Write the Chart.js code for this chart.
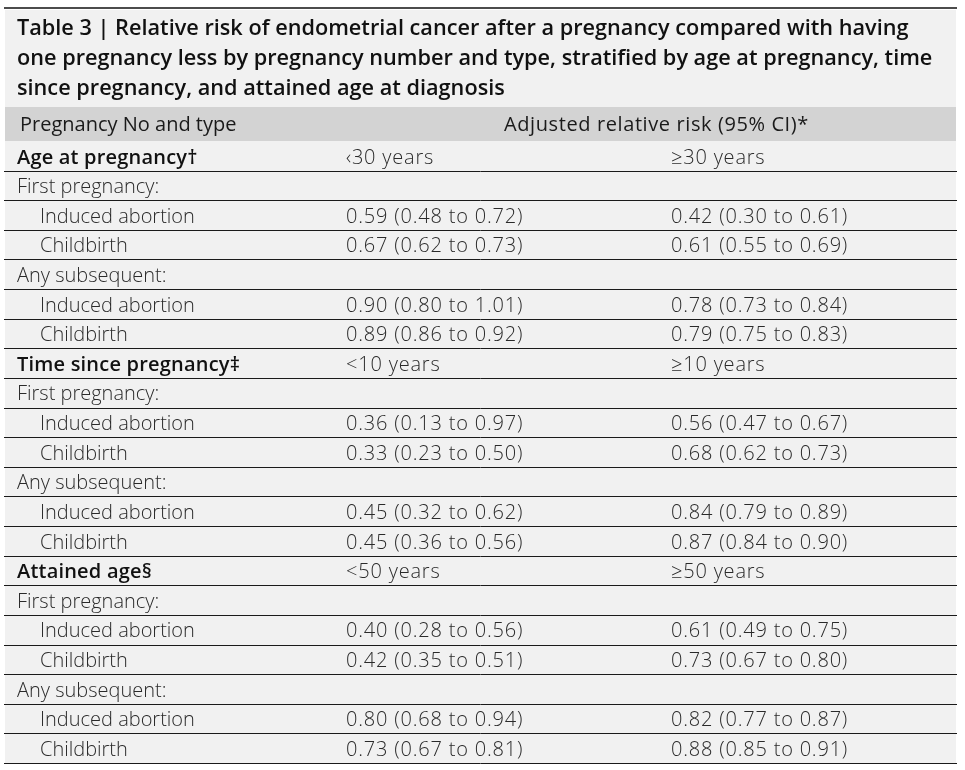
<!DOCTYPE html>
<html>
<head>
<meta charset="utf-8">
<script src="https://cdn.jsdelivr.net/npm/chart.js@4/dist/chart.umd.min.js"></script>
<style>
html,body{margin:0;padding:0;background:#fff;}
#wrap{width:965px;height:770px;}
</style>
</head>
<body>
<div id="wrap"><canvas id="c" width="965" height="770"></canvas></div>
<script>
// ---- data ----
const titleLines = [
  "Table 3 | Relative risk of endometrial cancer after a pregnancy compared with having",
  "one pregnancy less by pregnancy number and type, stratified by age at pregnancy, time",
  "since pregnancy, and attained age at diagnosis"
];
const headerLabels = ["Pregnancy No and type", "Adjusted relative risk (95% CI)*"];
const sections = ["Age at pregnancy†", "Time since pregnancy‡", "Attained age§"];
const sectionColA = ["‹30 years", "<10 years", "<50 years"];
const sectionColB = ["≥30 years", "≥10 years", "≥50 years"];
const groups = ["First pregnancy:", "Any subsequent:"];
const types = ["Induced abortion", "Childbirth"];

const estA  = [0.59,0.67,0.90,0.89, 0.36,0.33,0.45,0.45, 0.40,0.42,0.80,0.73];
const lowA  = [0.48,0.62,0.80,0.86, 0.13,0.23,0.32,0.36, 0.28,0.35,0.68,0.67];
const highA = [0.72,0.73,1.01,0.92, 0.97,0.50,0.62,0.56, 0.56,0.51,0.94,0.81];
const estB  = [0.42,0.61,0.78,0.79, 0.56,0.68,0.84,0.87, 0.61,0.73,0.82,0.88];
const lowB  = [0.30,0.55,0.73,0.75, 0.47,0.62,0.79,0.84, 0.49,0.67,0.77,0.85];
const highB = [0.61,0.69,0.84,0.83, 0.67,0.73,0.89,0.90, 0.75,0.80,0.87,0.91];

// ---- build rows ----
const rows = [];
let k = 0;
sections.forEach((s, si) => {
  rows.push({kind:'section', label:s, a:sectionColA[si], b:sectionColB[si]});
  groups.forEach(g => {
    rows.push({kind:'group', label:g, a:'', b:''});
    types.forEach(t => {
      const fa = estA[k].toFixed(2)+' ('+lowA[k].toFixed(2)+' to '+highA[k].toFixed(2)+')';
      const fb = estB[k].toFixed(2)+' ('+lowB[k].toFixed(2)+' to '+highB[k].toFixed(2)+')';
      rows.push({kind:'item', label:t, a:fa, b:fb});
      k++;
    });
  });
});
const rowIds = rows.map((r,i)=>String(i));

// column anchors on the x scale (fractions of table width)
const colPos = {label:0.0126, indent:0.0368, a:0.3586, b:0.7003, head0:0.0158, head1:0.5247};

const FONT = "'Open Sans', 'Noto Sans', sans-serif";

function txt(ctx, s, x, y, spacing){
  ctx.letterSpacing = (spacing||0) + 'px';
  ctx.fillText(s, x, y);
  ctx.letterSpacing = '0px';
}

const tablePlugin = {
  id:'tablePlugin',
  beforeDraw(chart){
    const ctx = chart.ctx;
    const L = chart.chartArea.left, R = chart.chartArea.right;
    ctx.save();
    ctx.fillStyle = '#ffffff';
    ctx.fillRect(0,0,chart.width,chart.height);
    ctx.fillStyle = '#f1f1f1';
    ctx.fillRect(L, 10, R-L, chart.chartArea.bottom-10);
    ctx.fillStyle = '#d3d3d3';
    ctx.fillRect(L, 107, R-L, chart.chartArea.top-107);
    ctx.strokeStyle = '#111';
    ctx.lineWidth = 1.5;
    ctx.beginPath(); ctx.moveTo(L-1, 8); ctx.lineTo(R+1, 8); ctx.stroke();
    ctx.restore();
  },
  afterDraw(chart){
    const ctx = chart.ctx;
    const xs = chart.scales.x, ys = chart.scales.y;
    const L = chart.chartArea.left, R = chart.chartArea.right;
    const step = ys.getPixelForValue(1) - ys.getPixelForValue(0);
    ctx.save();
    ctx.textBaseline = 'middle';
    ctx.textAlign = 'left';
    // title
    ctx.fillStyle = '#111';
    ctx.font = '600 21.7px ' + FONT;
    titleLines.forEach((t,i)=>{ txt(ctx, t, xs.getPixelForValue(colPos.label), 29 + i*30, 0); });
    // header
    ctx.fillStyle = '#1a1a1a';
    ctx.font = '500 20px ' + FONT;
    const hy = (107 + chart.chartArea.top)/2 + 1;
    txt(ctx, headerLabels[0], xs.getPixelForValue(colPos.head0), hy, 0);
    txt(ctx, headerLabels[1], xs.getPixelForValue(colPos.head1), hy, 0.6);
    // rows
    rows.forEach((r,i)=>{
      const cy = ys.getPixelForValue(i) + 2;
      if (r.kind==='section'){
        ctx.font = '600 20px ' + FONT; ctx.fillStyle = '#111';
        txt(ctx, r.label, xs.getPixelForValue(colPos.label), cy, 0.2);
      } else {
        ctx.font = '300 20px ' + FONT; ctx.fillStyle = '#2a2a2a';
        txt(ctx, r.label, xs.getPixelForValue(r.kind==='item'?colPos.indent:colPos.label), cy, 0);
      }
      ctx.font = '300 20px ' + FONT; ctx.fillStyle = '#2a2a2a';
      if (r.a) txt(ctx, r.a, xs.getPixelForValue(colPos.a), cy, 0.8);
      if (r.b) txt(ctx, r.b, xs.getPixelForValue(colPos.b), cy, 0.8);
      const ly = Math.round(ys.getPixelForValue(i) + step/2) + 0.5;
      ctx.strokeStyle = '#1a1a1a';
      ctx.lineWidth = 1;
      ctx.beginPath(); ctx.moveTo(L-1, ly); ctx.lineTo(R+1, ly); ctx.stroke();
    });
    ctx.restore();
  }
};

new Chart(document.getElementById('c'), {
  type:'bar',
  data:{ labels: rowIds, datasets: [] },
  options:{
    responsive:false,
    animation:false,
    devicePixelRatio:1,
    indexAxis:'y',
    layout:{ padding:{ left:5, right:9, top:141, bottom:7 } },
    plugins:{ legend:{display:false}, title:{display:false}, tooltip:{enabled:false} },
    scales:{
      y:{ type:'category', labels: rowIds, offset:true, display:false },
      x:{ type:'linear', min:0, max:1, display:false }
    }
  },
  plugins:[tablePlugin]
});
</script>
</body>
</html>
